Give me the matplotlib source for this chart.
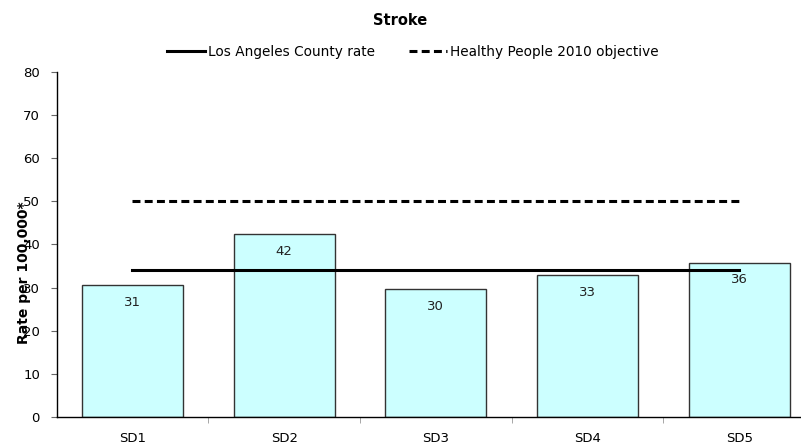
import matplotlib
matplotlib.use("Agg")
import matplotlib.pyplot as plt
import numpy as np

CATEGORIES = ["SD1", "SD2", "SD3", "SD4", "SD5"]
RATES = [30.6, 42.4, 29.6, 32.9, 35.8]
RATE_LABELS = ["31", "42", "30", "33", "36"]
LA_COUNTY_RATE = 34.0
HP2010_OBJECTIVE = 50.0

BAR_COLOR = "#CCFFFF"


def main() -> None:
    plt.rcParams.update(
        {
            "font.family": ["DejaVu Sans"],
            "font.size": 9.5,
        }
    )

    fig = plt.figure(figsize=(8.01, 4.47), dpi=100)
    ax = fig.add_axes([0.0707, 0.0671, 0.947, 0.772])

    x = np.arange(len(CATEGORIES))
    bars = ax.bar(
        x,
        RATES,
        width=0.666,
        color=BAR_COLOR,
        edgecolor="#333333",
        linewidth=1.0,
        zorder=2,
    )
    for bar, label in zip(bars, RATE_LABELS):
        ax.annotate(
            label,
            (bar.get_x() + bar.get_width() / 2, bar.get_height()),
            xytext=(0, -12.5),
            textcoords="offset points",
            ha="center",
            va="center",
            fontsize=9.5,
            color="#222222",
            zorder=4,
        )

    ax.plot(
        [x[0], x[-1]],
        [LA_COUNTY_RATE] * 2,
        color="black",
        linewidth=2.2,
        label="Los Angeles County rate",
        zorder=3,
    )
    ax.plot(
        [x[0], x[-1]],
        [HP2010_OBJECTIVE] * 2,
        color="black",
        linewidth=2.2,
        linestyle=(0, (2.6, 1.4)),
        label="Healthy People 2010 objective",
        zorder=3,
    )

    ax.set_xlim(-0.5, len(CATEGORIES) - 0.5)
    ax.set_ylim(0, 80)
    ax.set_yticks(np.arange(0, 81, 10))
    ax.set_xticks(x)
    ax.set_xticklabels(CATEGORIES)
    ax.tick_params(axis="x", length=0, pad=11)
    ax.set_xticks(np.arange(len(CATEGORIES)) + 0.5, minor=True)
    ax.tick_params(axis="x", which="minor", length=4, color="#999999")
    ax.tick_params(axis="y", length=4, color="#666666", pad=8)

    for side in ("top", "right"):
        ax.spines[side].set_visible(False)
    ax.spines["left"].set_linewidth(1.0)
    ax.spines["bottom"].set_linewidth(1.0)

    # the source chart draws this label over the tick numbers
    fig.text(
        0.030, 0.391, "Rate per 100,000*",
        rotation=90, ha="center", va="center",
        fontsize=10, fontweight="bold",
    )
    fig.text(0.5, 0.955, "Stroke", ha="center", va="center",
             fontsize=10.5, fontweight="bold")

    fig.legend(
        loc="center",
        bbox_to_anchor=(0.515, 0.884),
        ncol=2,
        frameon=False,
        fontsize=9.8,
        handlelength=2.8,
        handletextpad=0.2,
        columnspacing=2.5,
    )

    fig.savefig("out.png", dpi=100)
    plt.close(fig)


if __name__ == "__main__":
    main()
